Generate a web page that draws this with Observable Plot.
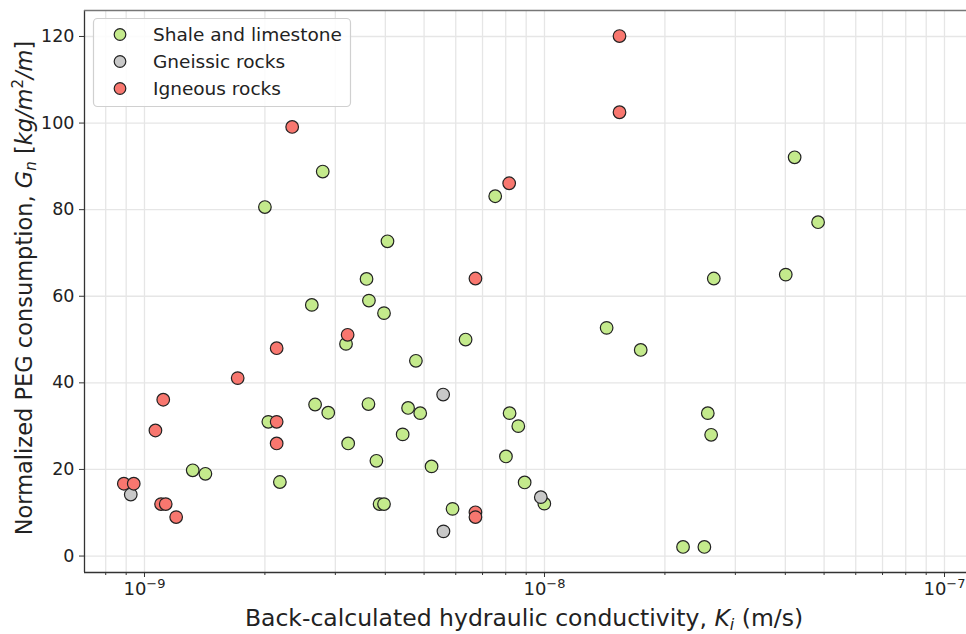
<!DOCTYPE html>
<html>
<head>
<meta charset="utf-8">
<script src="https://cdn.jsdelivr.net/npm/d3@7"></script>
<script src="https://cdn.jsdelivr.net/npm/@observablehq/plot@0.6"></script>
<style>
  html, body { margin: 0; padding: 0; background: #fff; overflow: hidden; }
  #chart svg { display: block; }
</style>
</head>
<body>
<div id="chart"></div>
<script>
// Back-calculated hydraulic conductivity K_i (m/s) and normalized PEG consumption G_n (kg/m²/m)
const seriesNames = ["Shale and limestone", "Gneissic rocks", "Igneous rocks"];
const seriesColors = ["#c4ea8c", "#c8c8c8", "#f8776f"];

const shaleK = [2.00e-9, 2.79e-9, 4.05e-9, 3.59e-9, 3.64e-9, 2.62e-9, 3.97e-9, 3.19e-9, 2.67e-9, 2.88e-9,
                2.04e-9, 3.23e-9, 2.18e-9, 1.32e-9, 1.42e-9, 3.63e-9, 3.80e-9, 3.87e-9, 3.97e-9, 4.42e-9,
                4.77e-9, 6.35e-9, 4.56e-9, 4.89e-9, 5.22e-9, 5.89e-9, 8.18e-9, 8.60e-9, 8.01e-9, 8.92e-9,
                9.99e-9, 7.53e-9, 1.43e-8, 1.74e-8, 2.22e-8, 2.51e-8, 2.56e-8, 2.61e-8, 2.65e-8, 4.01e-8,
                4.22e-8, 4.83e-8];
const shaleG = [80.6, 88.8, 72.7, 64.0, 59.0, 58.0, 56.1, 49.0, 35.0, 33.1,
                31.0, 26.0, 17.1, 19.8, 19.0, 35.1, 22.0, 12.0, 12.0, 28.1,
                45.1, 50.0, 34.2, 33.0, 20.7, 10.9, 33.0, 30.0, 23.0, 17.0,
                12.1, 83.1, 52.7, 47.6, 2.1, 2.1, 33.0, 28.0, 64.1, 65.0,
                92.1, 77.1];

const gneissK = [9.24e-10, 5.58e-9, 5.59e-9, 9.79e-9];
const gneissG = [14.2, 37.3, 5.7, 13.6];

const igneousK = [8.88e-10, 9.40e-10, 1.065e-9, 1.114e-9, 1.10e-9, 1.13e-9, 1.20e-9, 1.71e-9, 2.14e-9, 2.14e-9,
                  2.14e-9, 3.22e-9, 2.34e-9, 6.72e-9, 6.72e-9, 6.72e-9, 8.16e-9, 1.54e-8, 1.54e-8];
const igneousG = [16.7, 16.7, 29.0, 36.1, 12.0, 12.0, 9.0, 41.1, 48.0, 31.0,
                  26.0, 51.1, 99.1, 64.1, 10.1, 9.0, 86.1, 120.1, 102.5];

// decade ticks: base "10" with the exponent drawn as a superscript
const xMajorTicks = [1e-9, 1e-8, 1e-7];
const xTickExponents = ["−9", "−8", "−7"];
const yTicks = [0, 20, 40, 60, 80, 100, 120];

// long-format table for the dot mark
const rows = [];
[[shaleK, shaleG, 0], [gneissK, gneissG, 1], [igneousK, igneousG, 2]].forEach(([ks, gs, i]) => {
  ks.forEach((k, j) => rows.push({K: k, G: gs[j], type: seriesNames[i]}));
});

const xDomain = [7.08e-10, 1.135e-7];
const yDomain = [-3.8, 126];

// minor log ticks 2..9 × 10^n inside the domain
const xMinorTicks = [];
for (let e = -10; e <= -7; e++) {
  for (let m = 2; m <= 9; m++) {
    const v = m * Math.pow(10, e);
    if (v > xDomain[0] && v < xDomain[1]) xMinorTicks.push(v);
  }
}
const xAllTicks = [...xMajorTicks, ...xMinorTicks];

const FONT = "DejaVu Sans";
const W = 966, H = 634;
const mL = 84, mR = 0, mT = 10, mB = 62;

const chart = Plot.plot({
  width: W,
  height: H,
  marginLeft: mL,
  marginRight: mR,
  marginTop: mT,
  marginBottom: mB,
  style: {fontFamily: FONT, background: "#fff", color: "#222"},
  x: {type: "log", domain: xDomain},
  y: {domain: yDomain},
  color: {domain: seriesNames, range: seriesColors},
  marks: [
    Plot.gridX(xAllTicks, {stroke: "#e6e6e6", strokeOpacity: 1, strokeWidth: 1.3}),
    Plot.gridY(yTicks, {stroke: "#e6e6e6", strokeOpacity: 1, strokeWidth: 1.3}),
    Plot.axisX(xMinorTicks, {tickSize: 3, tickFormat: () => "", label: null, stroke: "#333"}),
    Plot.axisX(xMajorTicks, {
      tickSize: 5, tickPadding: 5, fontSize: 18, label: null, stroke: "#333",
      tickFormat: d => "10" + xTickExponents[xMajorTicks.indexOf(d)]
    }),
    Plot.axisY(yTicks, {tickSize: 5, tickPadding: 5, fontSize: 17.5, label: null, stroke: "#333"}),
    Plot.ruleX([xDomain[0]], {stroke: "#333", strokeWidth: 1.3}),
    Plot.ruleY([yDomain[0]], {stroke: "#333", strokeWidth: 1.3}),
    Plot.ruleY([yDomain[1]], {stroke: "#777", strokeWidth: 1.5}),
    Plot.dot(rows, {x: "K", y: "G", fill: "type", stroke: "#222", strokeWidth: 1.2, r: 6.3})
  ]
});

document.getElementById("chart").appendChild(chart);

const svg = d3.select(chart);

// tick label sizes, set on each label
svg.selectAll('g[aria-label="y-axis tick label"] text').attr("font-size", 17.5).attr("fill", "#222");
svg.selectAll('g[aria-label="x-axis tick label"] text').attr("font-size", 18).attr("fill", "#222");

// split each decade label into base and raised exponent
svg.selectAll('g[aria-label="x-axis tick label"] text').each(function () {
  const t = d3.select(this);
  const s = t.text();
  if (!s.startsWith("10")) return;
  const exp = s.slice(2);
  t.text(null);
  t.append("tspan").text("10");
  t.append("tspan").attr("font-size", 13).attr("dy", -7).text(exp);
});

// x-axis title with italic K and subscript i
const xTitle = svg.append("text")
  .attr("x", 524)
  .attr("y", 626)
  .attr("text-anchor", "middle")
  .attr("font-family", FONT)
  .attr("font-size", 23.5)
  .attr("fill", "#222");
xTitle.append("tspan").text("Back-calculated hydraulic conductivity, ");
xTitle.append("tspan").attr("font-style", "italic").text("K");
xTitle.append("tspan").attr("font-style", "italic").attr("font-size", 16).attr("dy", 4).text("i");
xTitle.append("tspan").attr("dy", -4).text(" (m/s)");

// y-axis title with italic G_n and [kg/m²/m]
const yTitle = svg.append("text")
  .attr("transform", `translate(32,${(mT + H - mB) / 2 - 3}) rotate(-90)`)
  .attr("text-anchor", "middle")
  .attr("font-family", FONT)
  .attr("font-size", 22.5)
  .attr("fill", "#222");
yTitle.append("tspan").text("Normalized PEG consumption, ");
yTitle.append("tspan").attr("font-style", "italic").text("G");
yTitle.append("tspan").attr("font-style", "italic").attr("font-size", 15).attr("dy", 4).text("n");
yTitle.append("tspan").attr("dy", -4).text(" [");
yTitle.append("tspan").attr("font-style", "italic").text("kg/m");
yTitle.append("tspan").attr("font-size", 15).attr("dy", -9).text("2");
yTitle.append("tspan").attr("font-style", "italic").attr("dy", 9).text("/m");
yTitle.append("tspan").text("]");

// legend box
const lg = svg.append("g").attr("font-family", FONT).attr("text-anchor", "start");
lg.append("rect")
  .attr("x", 93.5).attr("y", 18.5).attr("width", 257).attr("height", 88)
  .attr("rx", 4).attr("fill", "#fff").attr("fill-opacity", 0.85)
  .attr("stroke", "#d0d0d0").attr("stroke-width", 1.2);
seriesNames.forEach((name, i) => {
  const cy = 34.5 + i * 27;
  lg.append("circle").attr("cx", 120).attr("cy", cy).attr("r", 5.8)
    .attr("fill", seriesColors[i]).attr("stroke", "#222").attr("stroke-width", 1.2);
  lg.append("text").attr("x", 153).attr("y", cy).attr("dy", "0.36em")
    .attr("text-anchor", "start")
    .attr("font-size", 18.5).attr("fill", "#222").text(name);
});
</script>
</body>
</html>
